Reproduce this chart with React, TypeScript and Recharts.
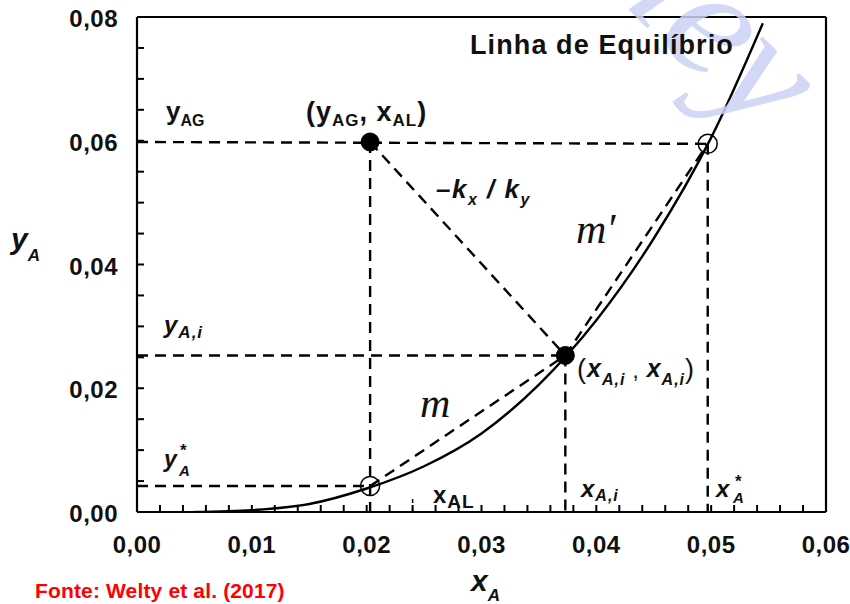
import React from "react";
import { ComposedChart, Line, XAxis, YAxis, ReferenceLine, ReferenceDot } from "recharts";

// equilibrium curve
const curveX = [0.005, 0.01, 0.015, 0.02, 0.025, 0.03, 0.035, 0.04, 0.045, 0.05, 0.0545];
const curveY = [0, 0.0003, 0.0013, 0.0038, 0.0074, 0.0127, 0.0206, 0.031, 0.0442, 0.0605, 0.079];

// key points
const bulkPoint = [0.0203, 0.0598]; // (yAG, xAL)
const interfacePoint = [0.0373, 0.0253]; // (xA,i , yA,i)
const eqLow = [0.0203, 0.0042]; // y*A
const eqHigh = [0.0497, 0.0595]; // x*A
const xALmark = [0.024, 0.0025];

const xMajor = [0, 0.01, 0.02, 0.03, 0.04, 0.05, 0.06];
const yMajor = [0, 0.02, 0.04, 0.06, 0.08];
const xTicks = Array.from({ length: 31 }, (_, i) => +(i * 0.002).toFixed(3));
const yTicks = Array.from({ length: 17 }, (_, i) => +(i * 0.005).toFixed(3));

const curve = curveX.map((x, i) => ({ x, y: curveY[i] }));
const seg = (a: number[], b: number[]) => [
  { x: a[0], y: a[1] },
  { x: b[0], y: b[1] },
];

const dashed = [
  seg([0, bulkPoint[1]], eqHigh),
  seg(bulkPoint, [bulkPoint[0], 0]),
  seg([0, eqLow[1]], eqLow),
  seg(bulkPoint, interfacePoint),
  seg([0, interfacePoint[1]], interfacePoint),
  seg(interfacePoint, [interfacePoint[0], 0]),
  seg(eqHigh, [eqHigh[0], 0]),
  seg(eqLow, interfacePoint),
  seg(interfacePoint, eqHigh),
];

const SANS = "'Liberation Sans', Arial, Helvetica, sans-serif";
const SERIF = "'Liberation Serif', 'Times New Roman', serif";

const isMajor = (v: number, list: number[]) => list.some((m) => Math.abs(m - v) < 1e-9);
const fmt = (v: number) => v.toFixed(2).replace(".", ",");

const XTick = (props: any) => {
  const { x, y, payload } = props;
  const v = payload.value as number;
  return (
    <g>
      <line x1={x} x2={x} y1={y} y2={y - 7} stroke="#000" strokeWidth={2} />
      {isMajor(v, xMajor) && (
        <text x={x} y={y + 41} textAnchor="middle" fontFamily={SANS} fontWeight="bold" fontSize={24} letterSpacing={0.5} fill="#111">
          {fmt(v)}
        </text>
      )}
    </g>
  );
};

const YTick = (props: any) => {
  const { x, y, payload } = props;
  const v = payload.value as number;
  return (
    <g>
      <line x1={x} x2={x + 7} y1={y} y2={y} stroke="#000" strokeWidth={2} />
      {isMajor(v, yMajor) && (
        <text x={x - 19} y={y + 10} textAnchor="end" fontFamily={SANS} fontWeight="bold" fontSize={24} letterSpacing={0.5} fill="#111">
          {fmt(v)}
        </text>
      )}
    </g>
  );
};

export default function App() {
  return (
    <div style={{ position: "absolute", left: 0, top: 0, width: 850, height: 604, background: "#fff" }}>
      <ComposedChart width={850} height={604} margin={{ top: 17, right: 24, bottom: 42, left: 57 }}>
        <XAxis
          type="number"
          dataKey="x"
          domain={[0, 0.06]}
          ticks={xTicks}
          interval={0}
          height={50}
          tickSize={0}
          tickMargin={0}
          tickLine={false}
          tick={<XTick />}
          axisLine={{ stroke: "#000", strokeWidth: 2.2 }}
          allowDataOverflow
        />
        <YAxis
          type="number"
          dataKey="y"
          domain={[0, 0.08]}
          ticks={yTicks}
          interval={0}
          width={80}
          tickSize={0}
          tickMargin={0}
          tickLine={false}
          tick={<YTick />}
          axisLine={{ stroke: "#000", strokeWidth: 2.2 }}
          allowDataOverflow
        />
        <ReferenceLine y={0.08} stroke="#000" strokeWidth={2.2} />
        <ReferenceLine x={0.06} stroke="#000" strokeWidth={2.2} />
        {dashed.map((d, i) => (
          <Line
            key={i}
            data={d}
            dataKey="y"
            type="linear"
            stroke="#000"
            strokeWidth={2.4}
            strokeDasharray="11 7"
            dot={false}
            isAnimationActive={false}
          />
        ))}
        <Line
          data={seg([xALmark[0], 0], xALmark)}
          dataKey="y"
          type="linear"
          stroke="#000"
          strokeWidth={1.5}
          strokeDasharray="4 5"
          dot={false}
          isAnimationActive={false}
        />
        <Line
          data={curve}
          dataKey="y"
          type="monotone"
          stroke="#000"
          strokeWidth={2.4}
          dot={false}
          isAnimationActive={false}
        />
        <ReferenceDot x={bulkPoint[0]} y={bulkPoint[1]} r={9} fill="#000" stroke="#000" />
        <ReferenceDot x={interfacePoint[0]} y={interfacePoint[1]} r={9} fill="#000" stroke="#000" />
        <ReferenceDot x={eqLow[0]} y={eqLow[1]} r={9.5} fill="none" stroke="#000" strokeWidth={1.5} />
        <ReferenceDot x={eqHigh[0]} y={eqHigh[1]} r={9.5} fill="none" stroke="#000" strokeWidth={1.5} />
      </ComposedChart>

      <svg
        width={850}
        height={604}
        style={{ position: "absolute", left: 0, top: 0, pointerEvents: "none" }}
      >
        {/* watermark */}
        <text
          x={0}
          y={0}
          transform="translate(499,-120) rotate(45)"
          fontFamily={SERIF}
          fontStyle="italic"
          fontSize={165}
          fill="#cdd2f6"
          opacity={0.85}
        >
          Wiley
        </text>

        <g fontFamily={SANS} fontWeight="bold" fill="#111">
          <text x={470} y={54} fontSize={27} letterSpacing={1.1}>Linha de Equilíbrio</text>

          {/* axis titles */}
          <text x={11} y={249} fontStyle="italic">
            <tspan fontSize={30}>y</tspan>
            <tspan fontSize={17} dy={12}>A</tspan>
          </text>
          <text x={471} y={591} fontStyle="italic">
            <tspan fontSize={30}>x</tspan>
            <tspan fontSize={17} dy={10}>A</tspan>
          </text>

          {/* left labels */}
          <text x={166} y={120}>
            <tspan fontSize={26}>y</tspan>
            <tspan fontSize={16} dy={6}>AG</tspan>
          </text>
          <text x={164} y={333} fontStyle="italic" letterSpacing={1}>
            <tspan fontSize={24}>y</tspan>
            <tspan fontSize={17} dy={5}>A,i</tspan>
          </text>
          <text>
            <tspan x={164} y={467} fontSize={23} fontStyle="italic">y</tspan>
            <tspan x={180} y={456} fontSize={17}>*</tspan>
            <tspan x={179} y={476} fontSize={15} fontStyle="italic">A</tspan>
          </text>

          {/* point labels */}
          <text x={306} y={121} letterSpacing={1}>
            <tspan fontSize={27}>(y</tspan>
            <tspan fontSize={17} dy={5}>AG</tspan>
            <tspan fontSize={27} dy={-5}>, x</tspan>
            <tspan fontSize={17} dy={5}>AL</tspan>
            <tspan fontSize={27} dy={-5}>)</tspan>
          </text>
          <text x={436} y={198} fontStyle="italic" letterSpacing={1.5}>
            <tspan fontSize={26}>–k</tspan>
            <tspan fontSize={16} dy={7}>x</tspan>
            <tspan fontSize={26} dy={-7}> / k</tspan>
            <tspan fontSize={16} dy={7}>y</tspan>
          </text>
          <text x={577} y={378} letterSpacing={1}>
            <tspan fontSize={27} fontWeight="normal">(</tspan>
            <tspan fontSize={25} fontStyle="italic" dy={-1}>x</tspan>
            <tspan fontSize={16} fontStyle="italic" dy={8}>A,i</tspan>
            <tspan fontSize={22} fontWeight="normal" dy={-7}> , </tspan>
            <tspan fontSize={25} fontStyle="italic" dy={-1}>x</tspan>
            <tspan fontSize={16} fontStyle="italic" dy={8}>A,i</tspan>
            <tspan fontSize={27} fontWeight="normal" dy={-7}>)</tspan>
          </text>

          {/* bottom labels */}
          <text x={433} y={503} letterSpacing={1}>
            <tspan fontSize={24}>x</tspan>
            <tspan fontSize={19} dy={5}>AL</tspan>
          </text>
          <text x={581} y={497} fontStyle="italic" letterSpacing={1}>
            <tspan fontSize={24}>x</tspan>
            <tspan fontSize={16} dy={4}>A,i</tspan>
          </text>
          <text fontStyle="italic">
            <tspan x={716} y={497} fontSize={24}>x</tspan>
            <tspan x={735} y={487} fontSize={17} fontStyle="normal">*</tspan>
            <tspan x={733} y={503} fontSize={15}>A</tspan>
          </text>
        </g>

        {/* slope labels */}
        <g fontFamily={SERIF} fontStyle="italic" fill="#111">
          <text x={576} y={243} fontSize={42}>m′</text>
          <text x={420} y={417} fontSize={42}>m</text>
        </g>

        <text x={35} y={598} fontFamily={SANS} fontWeight="bold" fontSize={21} letterSpacing={0.15} fill="#ff0000">
          Fonte: Welty et al. (2017)
        </text>
      </svg>
    </div>
  );
}
